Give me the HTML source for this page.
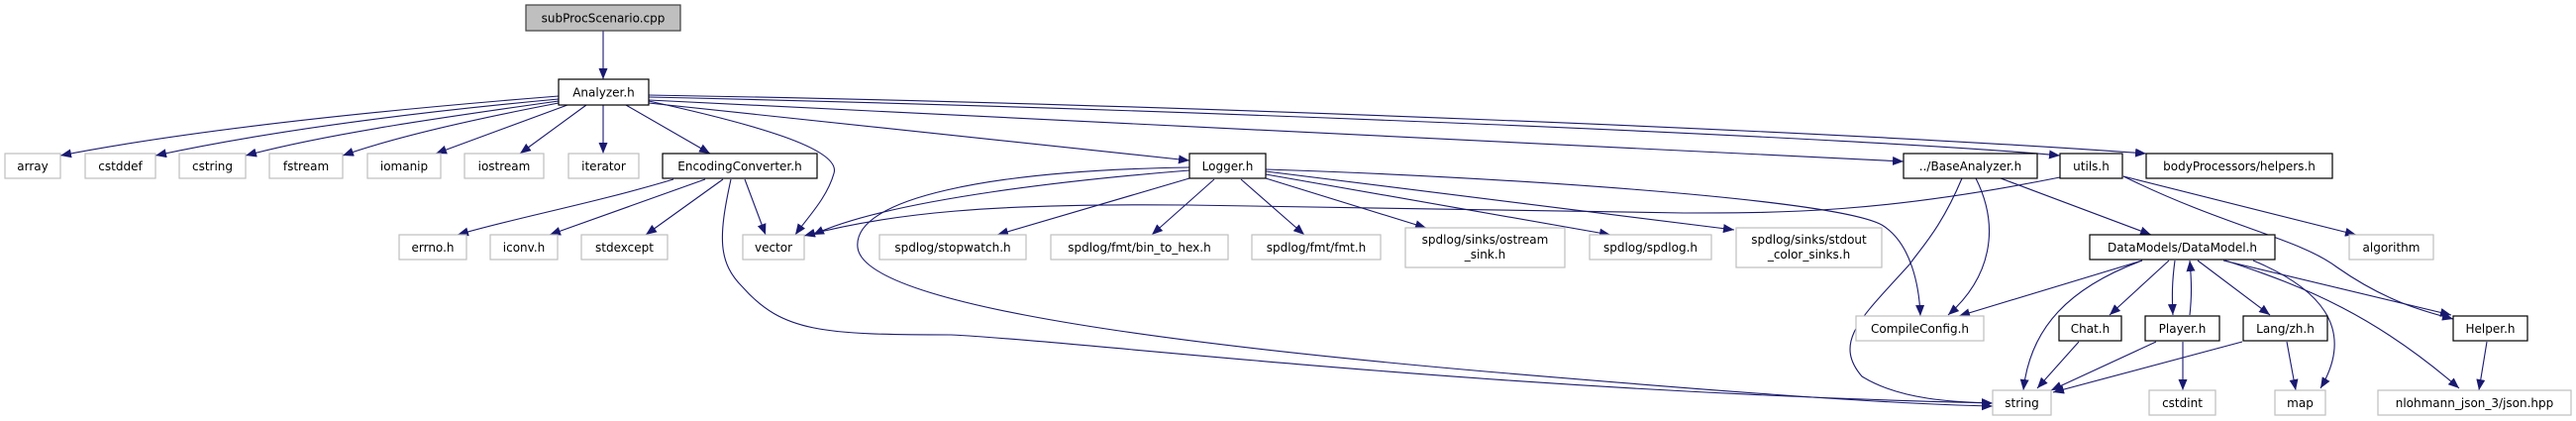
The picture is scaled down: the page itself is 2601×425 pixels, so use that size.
<!DOCTYPE html>
<html><head><meta charset="utf-8"><style>
html,body{margin:0;padding:0;background:#fff;}
svg{display:block;}
text{font-family:"DejaVu Sans","Liberation Sans",sans-serif;font-size:12px;fill:#000;}
.b{fill:#fff;stroke:#000;stroke-width:1.2;}
.g{fill:#fff;stroke:#bfbfbf;stroke-width:1.2;}
.e{fill:none;stroke:#191970;stroke-width:1.1;}
</style></head><body>
<svg width="2601" height="425" viewBox="0 0 2601 425" xmlns="http://www.w3.org/2000/svg">
<defs>
<marker id="a" markerWidth="11" markerHeight="9" refX="11" refY="4.5" orient="auto" markerUnits="userSpaceOnUse">
<path d="M0,0 L11,4.5 L0,9 z" fill="#191970"/>
</marker>
</defs>
<g marker-end="url(#a)">
<path class="e" d="M609,31 L609,80"/>
<path class="e" d="M564,97 C400,110 200,130 61,157"/>
<path class="e" d="M564,100 C400,115 260,135 157,157"/>
<path class="e" d="M564,102 C450,118 330,135 248,157"/>
<path class="e" d="M564,104 C480,120 400,138 346,157"/>
<path class="e" d="M573,106 L440,155"/>
<path class="e" d="M592,106 L525,155"/>
<path class="e" d="M609,106 L609,155"/>
<path class="e" d="M632,106 L717,155"/>
<path class="e" d="M655,102 C760,125 850,150 842,175 C835,200 815,220 803,237"/>
<path class="e" d="M655,104 L1201,162"/>
<path class="e" d="M655,101 L1922,163"/>
<path class="e" d="M655,98 C1200,110 1900,140 2080,157"/>
<path class="e" d="M655,96 C1200,105 1900,135 2167,155"/>
<path class="e" d="M680,181 C600,205 520,220 462,237"/>
<path class="e" d="M712,181 L555,237"/>
<path class="e" d="M730,181 L652,237"/>
<path class="e" d="M752,181 L773,237"/>
<path class="e" d="M738,181 C725,240 725,265 750,290 C790,335 830,338 960,338 C1100,345 1500,395 2012,407"/>
<path class="e" d="M1201,169 C1000,172 860,200 866,250 C872,300 1100,340 1500,375 C1700,392 1900,408 2012,410"/>
<path class="e" d="M1201,172 C1100,180 900,200 821,237"/>
<path class="e" d="M2080,179 C1900,215 1800,215 1700,215 L1200,207 C1000,205 900,215 812,238"/>
<path class="e" d="M1201,180 L1007,237"/>
<path class="e" d="M1226,181 L1163,237"/>
<path class="e" d="M1253,181 L1317,237"/>
<path class="e" d="M1278,180 L1440,230"/>
<path class="e" d="M1278,176 L1626,237"/>
<path class="e" d="M1278,173 L1751,232"/>
<path class="e" d="M1278,171 C1500,178 1850,200 1900,227 C1930,245 1938,290 1939,319"/>
<path class="e" d="M1981,180 C1960,230 1940,250 1928,267 C1880,320 1850,345 1880,380 C1920,405 1980,406 2012,407"/>
<path class="e" d="M1995,180 C2020,230 2010,280 1967,318"/>
<path class="e" d="M2020,180 L2172,237"/>
<path class="e" d="M2144,178 L2379,237"/>
<path class="e" d="M2144,178 C2250,230 2320,240 2360,270 C2410,305 2450,315 2477,322"/>
<path class="e" d="M2163,263 L1978,319"/>
<path class="e" d="M2163,263 C2090,290 2050,330 2043,394"/>
<path class="e" d="M2190,263 L2130,318"/>
<path class="e" d="M2196,263 C2193,285 2193,300 2194,318"/>
<path class="e" d="M2211,318 C2213,300 2213,285 2211,263"/>
<path class="e" d="M2219,263 L2292,318"/>
<path class="e" d="M2245,263 L2475,318"/>
<path class="e" d="M2247,263 C2330,290 2400,320 2483,392"/>
<path class="e" d="M2275,263 C2340,290 2380,330 2343,392"/>
<path class="e" d="M2099,345 L2057,392"/>
<path class="e" d="M2177,345 L2071,394"/>
<path class="e" d="M2204,345 L2204,394"/>
<path class="e" d="M2264,345 L2073,396"/>
<path class="e" d="M2309,345 L2318,394"/>
<path class="e" d="M2511,345 L2503,394"/>
</g>

<rect x="531" y="5" width="156" height="26" fill="#bfbfbf" stroke="#404040" stroke-width="1.2"/>
<text x="609" y="22.5" text-anchor="middle">subProcScenario.cpp</text>

<rect class="b" x="564" y="80" width="91" height="26"/><text x="609.5" y="97.5" text-anchor="middle">Analyzer.h</text>

<rect class="g" x="5" y="155" width="56" height="25"/><text x="33" y="172" text-anchor="middle" fill="#000">array</text>
<rect class="g" x="86" y="155" width="71" height="25"/><text x="121.5" y="172" text-anchor="middle">cstddef</text>
<rect class="g" x="181" y="155" width="67" height="25"/><text x="214.5" y="172" text-anchor="middle">cstring</text>
<rect class="g" x="272" y="155" width="74" height="25"/><text x="309" y="172" text-anchor="middle">fstream</text>
<rect class="g" x="371" y="155" width="74" height="25"/><text x="408" y="172" text-anchor="middle">iomanip</text>
<rect class="g" x="469" y="155" width="80" height="25"/><text x="509" y="172" text-anchor="middle">iostream</text>
<rect class="g" x="574" y="155" width="71" height="25"/><text x="609.5" y="172" text-anchor="middle">iterator</text>
<rect class="b" x="669" y="155" width="156" height="25"/><text x="747" y="172" text-anchor="middle">EncodingConverter.h</text>
<rect class="b" x="1201" y="155" width="77" height="25"/><text x="1239.5" y="172" text-anchor="middle">Logger.h</text>
<rect class="b" x="1922" y="155" width="135" height="25"/><text x="1989.5" y="172" text-anchor="middle">../BaseAnalyzer.h</text>
<rect class="b" x="2080" y="155" width="63" height="25"/><text x="2111.5" y="172" text-anchor="middle">utils.h</text>
<rect class="b" x="2167" y="155" width="188" height="25"/><text x="2261" y="172" text-anchor="middle">bodyProcessors/helpers.h</text>

<rect class="g" x="403" y="237" width="68" height="25"/><text x="437" y="254" text-anchor="middle">errno.h</text>
<rect class="g" x="495" y="237" width="68" height="25"/><text x="529" y="254" text-anchor="middle">iconv.h</text>
<rect class="g" x="587" y="237" width="87" height="25"/><text x="630.5" y="254" text-anchor="middle">stdexcept</text>
<rect class="g" x="750" y="237" width="62" height="25"/><text x="781" y="254" text-anchor="middle">vector</text>
<rect class="g" x="888" y="237" width="148" height="25"/><text x="962" y="254" text-anchor="middle">spdlog/stopwatch.h</text>
<rect class="g" x="1061" y="237" width="179" height="25"/><text x="1150.5" y="254" text-anchor="middle">spdlog/fmt/bin_to_hex.h</text>
<rect class="g" x="1264" y="237" width="130" height="25"/><text x="1329" y="254" text-anchor="middle">spdlog/fmt/fmt.h</text>
<rect class="g" x="1419" y="230" width="161" height="40"/><text x="1499.5" y="246" text-anchor="middle">spdlog/sinks/ostream</text><text x="1499.5" y="261" text-anchor="middle">_sink.h</text>
<rect class="g" x="1605" y="237" width="123" height="25"/><text x="1666.5" y="254" text-anchor="middle">spdlog/spdlog.h</text>
<rect class="g" x="1753" y="230" width="147" height="40"/><text x="1826.5" y="246" text-anchor="middle">spdlog/sinks/stdout</text><text x="1826.5" y="261" text-anchor="middle">_color_sinks.h</text>
<rect class="b" x="2110" y="237" width="187" height="25"/><text x="2203.5" y="254" text-anchor="middle">DataModels/DataModel.h</text>
<rect class="g" x="2372" y="237" width="85" height="25"/><text x="2414.5" y="254" text-anchor="middle">algorithm</text>

<rect class="g" x="1874" y="319" width="129" height="25"/><text x="1938.5" y="336" text-anchor="middle">CompileConfig.h</text>
<rect class="b" x="2079" y="319" width="63" height="25"/><text x="2110.5" y="336" text-anchor="middle">Chat.h</text>
<rect class="b" x="2166" y="319" width="75" height="25"/><text x="2203.5" y="336" text-anchor="middle">Player.h</text>
<rect class="b" x="2265" y="319" width="85" height="25"/><text x="2307.5" y="336" text-anchor="middle">Lang/zh.h</text>
<rect class="b" x="2477" y="319" width="75" height="25"/><text x="2514.5" y="336" text-anchor="middle">Helper.h</text>

<rect class="g" x="2012" y="394" width="59" height="25"/><text x="2041.5" y="411" text-anchor="middle">string</text>
<rect class="g" x="2170" y="394" width="67" height="25"/><text x="2203.5" y="411" text-anchor="middle">cstdint</text>
<rect class="g" x="2297" y="394" width="51" height="25"/><text x="2322.5" y="411" text-anchor="middle">map</text>
<rect class="g" x="2401" y="394" width="195" height="25"/><text x="2498.5" y="411" text-anchor="middle">nlohmann_json_3/json.hpp</text>
</svg>
</body></html>
